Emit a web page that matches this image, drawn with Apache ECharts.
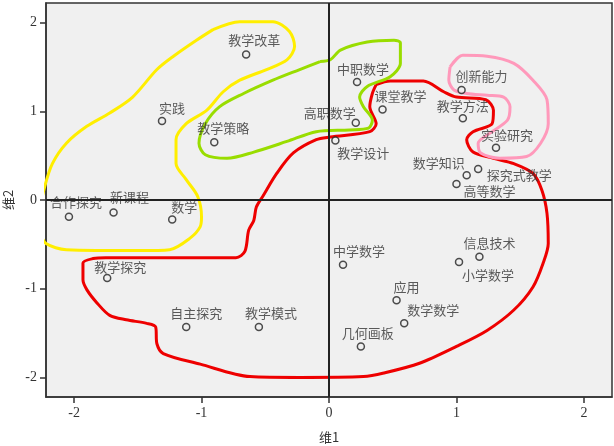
<!DOCTYPE html>
<html>
<head>
<meta charset="utf-8">
<script src="https://cdn.jsdelivr.net/npm/echarts@6/dist/echarts.min.js"></script>
<style>
  html, body { margin: 0; padding: 0; background: #fff; }
  #chart { width: 614px; height: 446px; }
</style>
</head>
<body>
<div id="chart"></div>
<script>
// 词语及其在维1/维2上的坐标
const words = ['教学改革', '实践', '教学策略', '合作探究', '新课程', '数学',
  '中职数学', '高职数学', '课堂教学', '教学设计', '创新能力', '教学方法', '实验研究',
  '数学知识', '探究式教学', '高等数学', '教学探究', '自主探究', '教学模式',
  '中学数学', '信息技术', '小学数学', '应用', '数学数学', '几何画板'];
const dim1 = [-0.65, -1.31, -0.90, -2.04, -1.69, -1.23,
  0.22, 0.21, 0.42, 0.05, 1.04, 1.05, 1.31,
  1.08, 1.17, 1.00, -1.74, -1.12, -0.55,
  0.11, 1.18, 1.02, 0.53, 0.59, 0.25];
const dim2 = [1.64, 0.89, 0.65, -0.19, -0.14, -0.22,
  1.33, 0.87, 1.02, 0.67, 1.24, 0.92, 0.59,
  0.28, 0.35, 0.18, -0.88, -1.43, -1.43,
  -0.73, -0.64, -0.70, -1.13, -1.39, -1.65];

// 标签相对点的偏移（像素）
const labelOffsets = [[8, -14], [10, -13], [9, -14], [7, -15], [16, -15], [12, -12],
  [6, -13], [-26, -10], [18, -13], [28, 13], [20, -14], [0, -12], [11, -13],
  [-28, -12], [41, 6], [33, 7], [13, -11], [10, -14], [12, -14],
  [16, -14], [10, -14], [29, 13], [10, -13], [29, -13], [7, -13]];

const ticks = [-2, -1, 0, 1, 2];

// 领域名称及位置
const regionNames = ['领域1', '领域2', '领域3', '领域4'];
const regionX = [-0.42, -1.58, -0.35, 1.66];
const regionY = [-0.77, 0.49, 1.18, 1.14];

// 手绘的领域轮廓
const outline1 = [[0.37, 1.30], [0.48, 1.34], [0.74, 1.34], [0.90, 1.22], [1.00, 1.16], [1.23, 1.13],
  [1.29, 1.01], [1.28, 0.86], [1.13, 0.77], [1.08, 0.68], [1.13, 0.54], [1.29, 0.47], [1.45, 0.41],
  [1.60, 0.30], [1.67, 0.11], [1.71, -0.15], [1.72, -0.49], [1.68, -0.71], [1.60, -0.98],
  [1.45, -1.24], [1.24, -1.47], [1.00, -1.65], [0.71, -1.84], [0.43, -1.95], [0.27, -1.99],
  [-0.23, -2.00], [-0.62, -1.99], [-1.01, -1.85], [-1.30, -1.73], [-1.35, -1.62], [-1.36, -1.43],
  [-1.43, -1.39], [-1.59, -1.35], [-1.72, -1.30], [-1.82, -1.16], [-1.90, -1.01], [-1.93, -0.90],
  [-1.93, -0.71], [-1.85, -0.66], [-1.75, -0.65], [-0.73, -0.65], [-0.66, -0.58], [-0.63, -0.34],
  [-0.59, -0.23], [-0.57, -0.08], [-0.52, 0.04], [-0.41, 0.30], [-0.28, 0.53], [-0.10, 0.68],
  [0.01, 0.71], [0.32, 0.77], [0.37, 0.86], [0.32, 1.05], [0.34, 1.20], [0.37, 1.30]];
const outline2 = [[-0.91, 1.92], [-0.70, 2.01], [-0.44, 2.01], [-0.31, 1.90], [-0.27, 1.73],
  [-0.33, 1.58], [-0.49, 1.47], [-0.70, 1.35], [-0.83, 1.22], [-0.96, 1.01], [-1.12, 0.86],
  [-1.20, 0.68], [-1.20, 0.41], [-1.12, 0.23], [-1.03, 0.04], [-1.00, -0.19], [-1.01, -0.30],
  [-1.09, -0.43], [-1.25, -0.56], [-1.48, -0.57], [-2.06, -0.56], [-2.22, -0.49], [-2.26, -0.37],
  [-2.26, -0.08], [-2.23, 0.15], [-2.17, 0.41], [-2.06, 0.64], [-1.90, 0.83], [-1.72, 0.98],
  [-1.54, 1.16], [-1.35, 1.47], [-1.22, 1.62], [-1.04, 1.80], [-0.91, 1.92]];
const outline3 = [[-0.07, 1.56], [-0.23, 1.47], [-0.44, 1.35], [-0.67, 1.20], [-0.86, 1.05],
  [-0.97, 0.86], [-1.02, 0.64], [-0.97, 0.51], [-0.80, 0.47], [-0.59, 0.54], [-0.33, 0.66],
  [-0.10, 0.77], [0.16, 0.79], [0.31, 0.81], [0.34, 0.90], [0.27, 1.05], [0.24, 1.16],
  [0.30, 1.28], [0.48, 1.39], [0.56, 1.54], [0.56, 1.77], [0.51, 1.80], [0.30, 1.78],
  [0.09, 1.69], [0.01, 1.58], [-0.07, 1.56]];
const outline4 = [[0.95, 1.50], [1.05, 1.63], [1.24, 1.62], [1.45, 1.54], [1.60, 1.35],
  [1.71, 1.13], [1.72, 0.86], [1.66, 0.64], [1.55, 0.49], [1.34, 0.47], [1.19, 0.53],
  [1.17, 0.64], [1.26, 0.75], [1.40, 0.90], [1.42, 1.05], [1.37, 1.16], [1.24, 1.18],
  [1.08, 1.20], [0.98, 1.24], [0.94, 1.35], [0.95, 1.50]];

const chart = echarts.init(document.getElementById('chart'));

const serif = '"Liberation Serif", "DejaVu Serif", serif';
const cjk = '"Noto Sans CJK SC", sans-serif';

function outlineSeries(pts, color) {
  return {
    type: 'line', data: pts, smooth: 0.3, symbol: 'none', clip: false, silent: true,
    lineStyle: { color: color, width: 3 }, z: 2
  };
}

function axisCommon(name, gap) {
  return {
    type: 'value', min: -2.22, max: 2.22,
    name: name, nameLocation: 'middle', nameGap: gap,
    nameTextStyle: { fontFamily: cjk, fontSize: 13, color: '#333' },
    axisLine: { show: true, onZero: false, lineStyle: { color: '#333', width: 1.5 } },
    axisTick: { show: true, customValues: ticks, length: 6, lineStyle: { color: '#333', width: 1.5 } },
    axisLabel: { customValues: ticks, fontFamily: serif, fontSize: 14, color: '#333', margin: 9 },
    splitLine: { show: false }
  };
}

const points = words.map((w, i) => ({
  value: [dim1[i], dim2[i]], name: w,
  label: { offset: labelOffsets[i] }
}));

chart.setOption({
  animation: false,
  grid: {
    left: 46, right: 2, top: 3, bottom: 49, outerBoundsMode: 'none', containLabel: false,
    show: true, backgroundColor: '#f0f0f0', borderColor: '#333', borderWidth: 1.5
  },
  xAxis: axisCommon('维1', 34),
  yAxis: Object.assign(axisCommon('维2', 30), { nameRotate: 90 }),
  series: [
    outlineSeries(outline1, '#ee0000'),
    outlineSeries(outline2, '#ffee00'),
    outlineSeries(outline3, '#99dd00'),
    outlineSeries(outline4, '#ff99bb'),
    {
      type: 'scatter', data: points, symbol: 'circle', symbolSize: 7, z: 4,
      itemStyle: { color: '#f0f0f0', borderColor: '#222', borderWidth: 1.5 },
      label: {
        show: true, position: 'inside', formatter: '{b}',
        fontFamily: cjk, fontSize: 13, color: '#333'
      },
      markLine: {
        silent: true, symbol: 'none', label: { show: false },
        lineStyle: { color: '#222', width: 2, type: 'solid' },
        data: [{ xAxis: 0 }, { yAxis: 0 }]
      }
    },
    {
      type: 'scatter', symbol: 'none', z: 5, silent: true,
      data: regionNames.map((n, i) => ({ value: [regionX[i], regionY[i]], name: n })),
      label: {
        show: true, position: 'inside', formatter: '{b}',
        fontFamily: cjk, fontSize: 16, fontWeight: 'bold', color: '#000'
      }
    }
  ]
});
</script>
</body>
</html>
